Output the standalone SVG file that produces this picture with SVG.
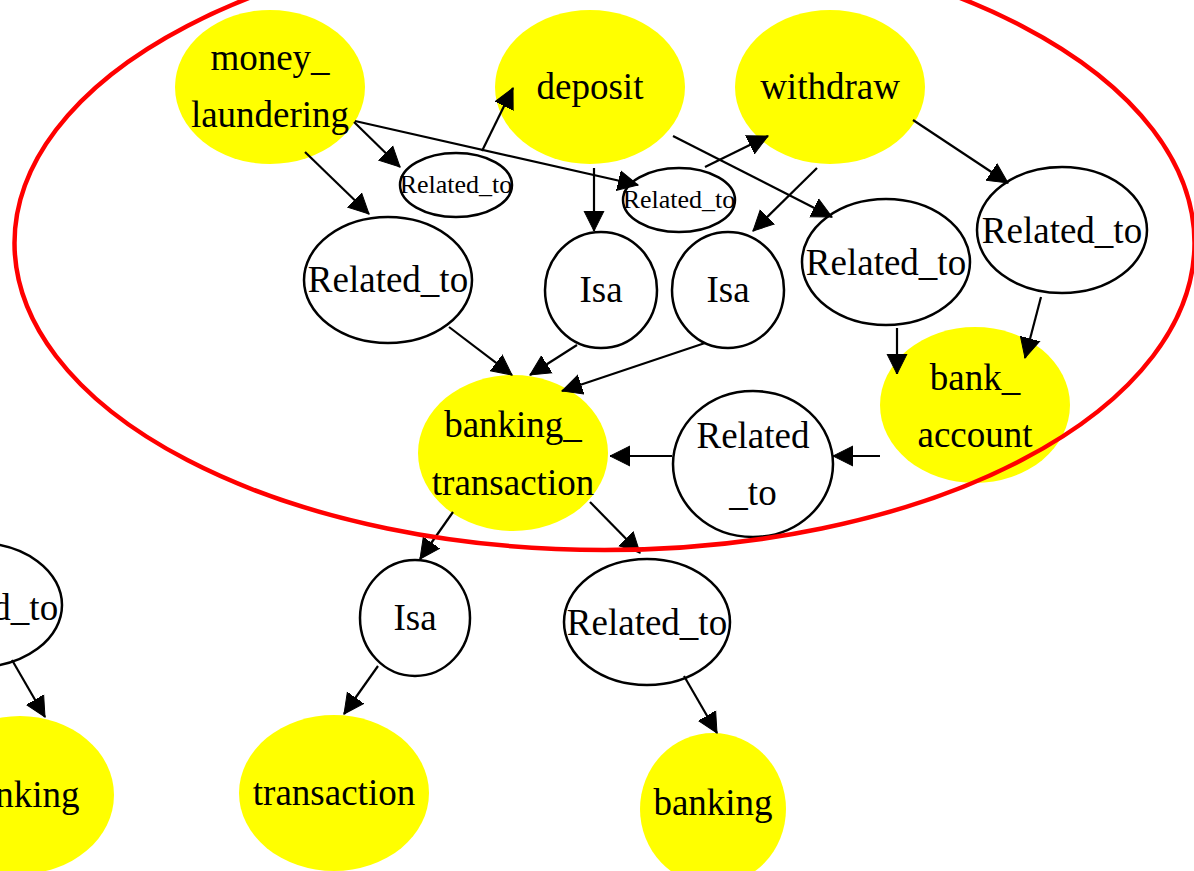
<svg xmlns="http://www.w3.org/2000/svg" width="1194" height="871" viewBox="0 0 1194 871">
  <style>
    .concept ellipse { fill: #ffff00; stroke: none; }
    .relation ellipse { fill: #ffffff; stroke: #000000; stroke-width: 2.5; }
    text { font-family: "Liberation Serif", "Times New Roman", serif; font-size: 37px; fill: #000000; text-anchor: middle; }
    text.small { font-size: 26px; }
    #edges line { stroke: #000000; stroke-width: 2.2; marker-end: url(#arrow); }
    .cluster { fill: none; stroke: #ff0000; stroke-width: 4.5; }
  </style>
  <defs>
    <marker id="arrow" markerUnits="userSpaceOnUse" markerWidth="22" markerHeight="22" viewBox="0 0 22 22" refX="20" refY="11" orient="auto">
      <polygon points="0,1 20,11 0,21" fill="#000000" stroke="#000000" stroke-width="1"/>
    </marker>
  </defs>

  <!-- concept nodes -->
  <g id="money_laundering" class="concept">
    <ellipse cx="270" cy="87" rx="95" ry="77"/>
    <text x="270" y="70">money_</text>
    <text x="270" y="127">laundering</text>
  </g>
  <g id="deposit" class="concept">
    <ellipse cx="590" cy="87" rx="95" ry="77"/>
    <text x="590" y="99">deposit</text>
  </g>
  <g id="withdraw" class="concept">
    <ellipse cx="830" cy="87" rx="95" ry="77"/>
    <text x="830" y="99">withdraw</text>
  </g>
  <g id="bank_account" class="concept">
    <ellipse cx="975" cy="405" rx="95" ry="78"/>
    <text x="975" y="390">bank_</text>
    <text x="975" y="447">account</text>
  </g>
  <g id="banking_transaction" class="concept">
    <ellipse cx="513" cy="453" rx="95" ry="78"/>
    <text x="513" y="437">banking_</text>
    <text x="513" y="495">transaction</text>
  </g>
  <g id="transaction" class="concept">
    <ellipse cx="334" cy="793" rx="95" ry="78"/>
    <text x="334" y="805">transaction</text>
  </g>
  <g id="banking" class="concept">
    <ellipse cx="713" cy="809" rx="73" ry="76"/>
    <text x="713" y="815">banking</text>
  </g>
  <g id="banking_left" class="concept">
    <ellipse cx="20" cy="795" rx="94" ry="79"/>
    <text x="20" y="807">banking</text>
  </g>

  <!-- relation nodes -->
  <g id="rel_ml_deposit" class="relation">
    <ellipse cx="456" cy="185" rx="56" ry="32"/>
    <text class="small" x="456" y="193">Related_to</text>
  </g>
  <g id="rel_ml_withdraw" class="relation">
    <ellipse cx="679" cy="200" rx="56" ry="32"/>
    <text class="small" x="679" y="208">Related_to</text>
  </g>
  <g id="rel_ml_bt" class="relation">
    <ellipse cx="388" cy="280" rx="84" ry="63"/>
    <text x="388" y="292">Related_to</text>
  </g>
  <g id="isa_deposit" class="relation">
    <ellipse cx="601" cy="290" rx="56" ry="58"/>
    <text x="601" y="302">Isa</text>
  </g>
  <g id="isa_withdraw" class="relation">
    <ellipse cx="728" cy="290" rx="56" ry="58"/>
    <text x="728" y="302">Isa</text>
  </g>
  <g id="rel_deposit_ba" class="relation">
    <ellipse cx="886" cy="262" rx="84" ry="63"/>
    <text x="886" y="275">Related_to</text>
  </g>
  <g id="rel_withdraw_ba" class="relation">
    <ellipse cx="1062" cy="230" rx="85" ry="63"/>
    <text x="1062" y="243">Related_to</text>
  </g>
  <g id="rel_ba_bt" class="relation">
    <ellipse cx="753" cy="464" rx="80" ry="73"/>
    <text x="753" y="448">Related</text>
    <text x="753" y="505">_to</text>
  </g>
  <g id="isa_bt" class="relation">
    <ellipse cx="415" cy="618" rx="55" ry="58"/>
    <text x="415" y="630">Isa</text>
  </g>
  <g id="rel_bt_banking" class="relation">
    <ellipse cx="647" cy="622" rx="83" ry="63"/>
    <text x="647" y="635">Related_to</text>
  </g>
  <g id="rel_left" class="relation">
    <ellipse cx="-22" cy="605" rx="84" ry="62"/>
    <text x="-22" y="620">Related_to</text>
  </g>

  <!-- connectors -->
  <g id="edges">
    <line x1="354" y1="122" x2="400" y2="167"/>
    <line x1="482" y1="151" x2="513" y2="88"/>
    <line x1="355" y1="121" x2="638" y2="185"/>
    <line x1="705" y1="167" x2="768" y2="136"/>
    <line x1="305" y1="152" x2="369" y2="214"/>
    <line x1="594" y1="168" x2="594" y2="231"/>
    <line x1="817" y1="168" x2="753" y2="231"/>
    <line x1="673" y1="136" x2="832" y2="217"/>
    <line x1="913" y1="120" x2="1008" y2="183"/>
    <line x1="897" y1="328" x2="897" y2="374"/>
    <line x1="1041" y1="297" x2="1025" y2="358"/>
    <line x1="449" y1="327" x2="512" y2="375"/>
    <line x1="577" y1="345" x2="530" y2="375"/>
    <line x1="705" y1="343" x2="562" y2="391"/>
    <line x1="880" y1="456" x2="833" y2="456"/>
    <line x1="672" y1="456" x2="610" y2="456"/>
    <line x1="453" y1="512" x2="420" y2="559"/>
    <line x1="590" y1="502" x2="640" y2="553"/>
    <line x1="378" y1="666" x2="344" y2="714"/>
    <line x1="684" y1="676" x2="717" y2="733"/>
    <line x1="12" y1="660" x2="45" y2="717"/>
  </g>

  <!-- cluster outline -->
  <ellipse class="cluster" cx="604.5" cy="243" rx="590" ry="307"/>
</svg>
